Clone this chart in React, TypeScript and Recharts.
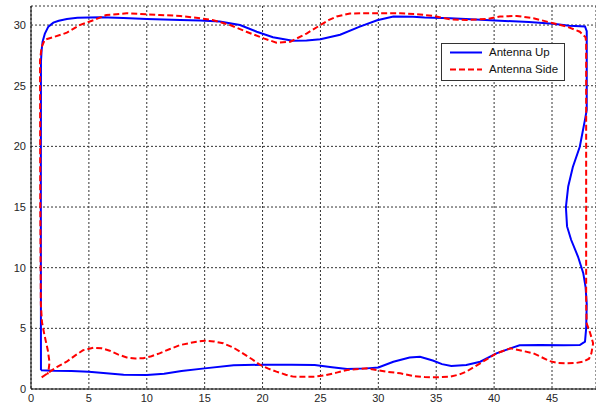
import React from "react";
import { LineChart, Line, XAxis, YAxis, CartesianGrid } from "recharts";

const xTicks = [0, 5, 10, 15, 20, 25, 30, 35, 40, 45];
const yTicks = [0, 5, 10, 15, 20, 25, 30];

const upX = [0.86, 2, 3.5, 5, 6.5, 8, 10, 11.5, 13, 15, 17.5, 20, 22.5, 24.5, 26, 27.3, 29, 30, 31.3, 32.7, 33.6, 34.7, 35.5, 36.3, 37.6, 38.8, 40.2, 41.4, 42.2, 44, 46, 47.4, 47.85, 47.95, 48.0, 47.9, 47.7, 47.25, 46.65, 46.3, 46.2, 46.4, 46.8, 47.4, 47.85, 48.0, 48.0, 47.85, 46.5, 45.1, 43, 40.5, 38, 36.2, 34, 33, 31.3, 29.9, 28.4, 26.7, 25, 23.8, 22.6, 20.9, 19.5, 18.05, 16.3, 14.6, 12.9, 10, 8, 6, 4, 3.1, 2.4, 1.93, 1.5, 1.2, 1.0, 0.92, 0.86, 0.85, 0.86];
const upY = [1.55, 1.5, 1.48, 1.42, 1.3, 1.17, 1.15, 1.25, 1.48, 1.7, 1.95, 2.0, 2.0, 1.98, 1.8, 1.65, 1.7, 1.78, 2.25, 2.6, 2.65, 2.35, 2.05, 1.9, 1.98, 2.25, 2.94, 3.35, 3.6, 3.62, 3.6, 3.62, 3.9, 5, 7, 8.4, 9.55, 10.9, 12.3, 13.4, 15.0, 16.7, 18.3, 19.97, 22.2, 23, 29.5, 29.88, 29.95, 30.1, 30.25, 30.36, 30.48, 30.56, 30.62, 30.68, 30.7, 30.4, 29.87, 29.2, 28.83, 28.72, 28.7, 29.0, 29.45, 30.0, 30.3, 30.38, 30.42, 30.5, 30.58, 30.64, 30.6, 30.5, 30.35, 30.2, 29.87, 29.3, 28.63, 27.95, 27, 15, 1.55];

const sideX = [0.92, 1.64, 2.3, 3.08, 3.8, 4.5, 5.4, 6.1, 6.8, 7.5, 8.27, 9.0, 9.7, 10.4, 11.1, 12.0, 12.9, 14.3, 15.0, 15.8, 16.6, 17.5, 18.3, 19.1, 19.8, 20.5, 21.2, 22.0, 22.65, 23.5, 24.4, 25.5, 26.4, 27.3, 29, 30.7, 31.9, 33, 34.0, 34.75, 36.2, 37.0, 37.6, 38.8, 40.2, 41.4, 42.2, 43.4, 44.8, 45.5, 46.3, 47.1, 47.7, 48.2, 48.4, 48.55, 48.3, 48.0, 47.95, 47.95, 47.9, 47.4, 46.3, 45.1, 43.4, 41.95, 40.5, 39.4, 37.6, 36.2, 34.75, 33.3, 31.9, 30.1, 28.5, 27.55, 26.4, 25.7, 25, 23.8, 22.4, 21.2, 20.1, 18.6, 17.2, 15.75, 14.6, 12.9, 11.1, 8.27, 6.5, 5.4, 4.2, 3.1, 1.93, 1.2, 0.92, 0.78, 0.8, 0.85, 0.95, 1.15, 1.45, 1.6, 1.5, 1.4];
const sideY = [0.96, 1.43, 1.85, 2.25, 2.75, 3.2, 3.4, 3.35, 3.16, 2.85, 2.6, 2.52, 2.53, 2.7, 2.94, 3.3, 3.63, 3.9, 3.98, 3.92, 3.77, 3.4, 2.94, 2.45, 1.98, 1.68, 1.43, 1.18, 1.02, 1.0, 1.01, 1.15, 1.35, 1.57, 1.7, 1.43, 1.29, 1.07, 0.98, 0.96, 1.01, 1.2, 1.43, 2.12, 2.94, 3.35, 3.2, 2.94, 2.3, 2.15, 2.12, 2.15, 2.25, 2.5, 2.94, 3.77, 4.6, 5.4, 7, 28.5, 29.0, 29.45, 29.87, 30.15, 30.56, 30.75, 30.7, 30.5, 30.42, 30.47, 30.75, 30.9, 30.97, 30.97, 30.97, 30.95, 30.7, 30.4, 30.0, 29.3, 28.63, 28.55, 28.9, 29.45, 30.0, 30.4, 30.56, 30.75, 30.83, 30.97, 30.83, 30.4, 30.0, 29.37, 29.0, 28.8, 28.2, 27.1, 15, 7, 5.5, 4.5, 3.2, 2.2, 1.4, 1.2];

const upData = upX.map((x, i) => ({ x, y: upY[i] }));
const sideData = sideX.map((x, i) => ({ x, y: sideY[i] }));

const tickStyle = { fontFamily: "'Liberation Sans', Arial, sans-serif", fontSize: 11, fill: "#262626" };

export default function App() {
  return (
    <div style={{ position: "absolute", left: 0, top: 0, width: 596, height: 407, background: "#fff", overflow: "hidden" }}>
      <LineChart width={596} height={407} margin={{ top: 6, right: 0, bottom: 0, left: 0 }}>
        <CartesianGrid stroke="#333" strokeDasharray="2 2" strokeWidth={1} />
        <XAxis
          xAxisId={0}
          type="number"
          dataKey="x"
          domain={[0, 48.8]}
          ticks={xTicks}
          allowDataOverflow
          height={18}
          tickLine={false}
          tickSize={0}
          tickMargin={5}
          axisLine={{ stroke: "#000" }}
          tick={tickStyle}
          interval={0}
        />
        <XAxis
          xAxisId="top"
          orientation="top"
          type="number"
          dataKey="x"
          domain={[0, 48.8]}
          height={0}
          tick={false}
          tickLine={false}
          axisLine={{ stroke: "#000" }}
        />
        <YAxis
          type="number"
          domain={[0, 31.57]}
          ticks={yTicks}
          allowDataOverflow
          width={31}
          tickLine={false}
          tickSize={0}
          tickMargin={5}
          axisLine={{ stroke: "#000" }}
          tick={tickStyle}
          interval={0}
        />
        <Line
          data={upData}
          dataKey="y"
          type="linear"
          stroke="#0000ff"
          strokeWidth={2}
          dot={false}
          activeDot={false}
          isAnimationActive={false}
        />
        <Line
          data={sideData}
          dataKey="y"
          type="linear"
          stroke="#ff0000"
          strokeWidth={2}
          strokeDasharray="6 3"
          dot={false}
          activeDot={false}
          isAnimationActive={false}
        />
      </LineChart>
      <div
        style={{
          position: "absolute",
          left: 441,
          top: 43,
          width: 122,
          height: 36,
          border: "1px solid #333",
          background: "#fff",
          fontFamily: "'Liberation Sans', Arial, sans-serif",
          fontSize: 11.5,
          color: "#111",
        }}
      >
        <svg width={40} height={36} style={{ position: "absolute", left: 0, top: 0 }}>
          <line x1={8} y1={8.5} x2={42} y2={8.5} stroke="#0000ff" strokeWidth={2} />
          <line x1={8} y1={25.5} x2={42} y2={25.5} stroke="#ff0000" strokeWidth={2} strokeDasharray="6 3" />
        </svg>
        <div style={{ position: "absolute", left: 47, top: 2, lineHeight: "13px", whiteSpace: "nowrap" }}>Antenna Up</div>
        <div style={{ position: "absolute", left: 47, top: 19, lineHeight: "13px", whiteSpace: "nowrap" }}>Antenna Side</div>
      </div>
    </div>
  );
}
